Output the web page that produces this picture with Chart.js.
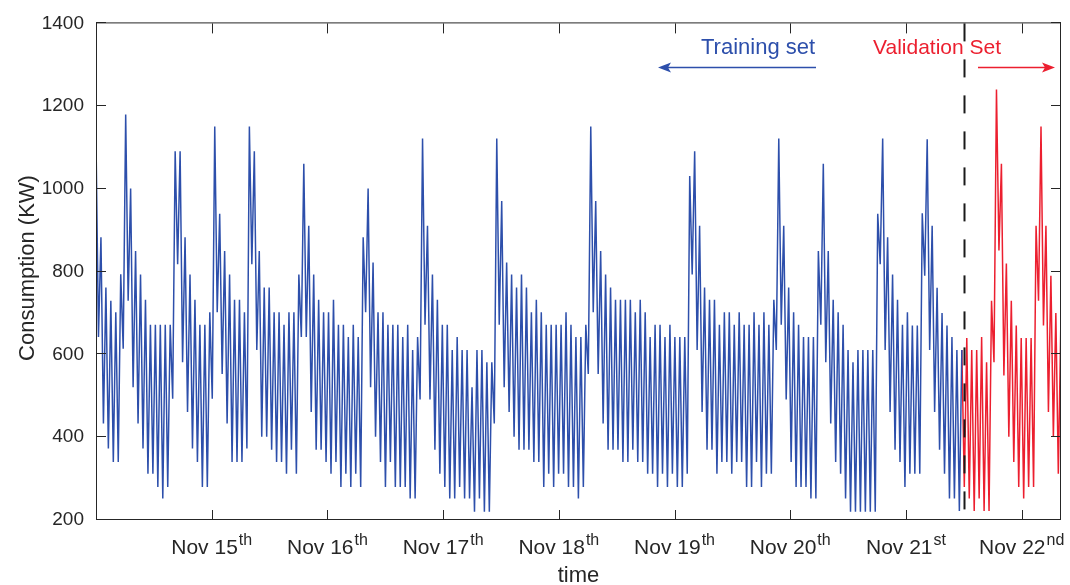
<!DOCTYPE html>
<html>
<head>
<meta charset="utf-8">
<title>Consumption</title>
<script src="https://cdn.jsdelivr.net/npm/chart.js@4.4.1/dist/chart.umd.min.js"></script>
<style>
  html, body { margin: 0; padding: 0; background: #fff; }
  #caixa { width: 1070px; height: 585px; }
</style>
</head>
<body>
<div id="caixa"><canvas id="grafico-consumo" width="1070" height="585"></canvas></div>
<script>
// Consumo (kW), amostras a cada ~30 min a partir de 14/nov 00h
const consumoTreino = [
  1120, 642, 883, 433, 762, 373, 730, 340, 702, 340, 794, 614, 1180, 730, 1001, 521, 850, 433, 793, 373,
  732, 312, 672, 312, 672, 280, 672, 252, 672, 280, 672, 493, 1091, 818, 1091, 581, 883, 461, 793, 373,
  732, 340, 672, 280, 672, 280, 702, 493,
  1151, 702, 940, 553, 850, 433, 793, 340, 732, 340, 732, 340, 702, 373, 1151, 818, 1091, 611, 850, 401,
  762, 401, 762, 370, 702, 340, 702, 340, 672, 312, 702, 370, 702, 312, 793, 642, 1061, 642, 911, 461,
  793, 370, 732, 370, 702, 340, 702, 312, 732,
  340, 672, 280, 672, 312, 642, 280, 672, 312, 642, 280, 883, 702, 1001, 521, 822, 401, 702, 340, 702,
  280, 672, 340, 672, 280, 672, 280, 642, 280, 672, 252, 611, 252, 642, 491, 1122, 672, 911, 491, 793,
  370, 732, 312, 672, 280, 672,
  252, 611, 252, 642, 280, 611, 252, 611, 252, 521, 220, 611, 252, 611, 220, 581, 220, 581, 433, 1122,
  672, 971, 521, 822, 461, 793, 401, 762, 370, 793, 370, 762, 370, 702, 340, 732, 340, 702, 280, 672,
  312, 672, 280, 672, 312, 672, 312,
  702, 280, 672, 280, 642, 252, 642, 280, 672, 553, 1151, 702, 971, 553, 850, 433, 793, 370, 762, 370,
  732, 370, 732, 340, 732, 340, 732, 370, 702, 340, 732, 340, 702, 312, 642, 312, 672, 280, 672, 312,
  642, 280, 672, 312, 642, 280, 642,
  280, 642, 312, 1031, 793, 1091, 611, 911, 461, 762, 370, 732, 370, 732, 312, 672, 340, 702, 340, 702,
  312, 672, 340, 702, 340, 672, 280, 672, 280, 702, 340, 672, 280, 702, 312, 672, 312, 732, 611, 1122,
  672, 911, 491, 762, 340, 702,
  280, 672, 280, 642, 280, 642, 252, 642, 252, 850, 672, 1061, 581, 850, 433, 732, 340, 702, 312, 672,
  252, 611, 220, 581, 220, 611, 220, 611, 220, 611, 220, 611, 220, 940, 818, 1122, 611, 883, 461, 793,
  370, 732, 340, 672, 280, 702, 312,
  670, 312, 670, 312, 941, 790, 1120, 611, 911, 461, 761, 370, 700, 312, 670, 252, 642, 252, 611, 222,
  611
];
const consumoValidacao = [
  280, 640, 252, 611, 222, 611, 252, 642, 222, 581, 222, 730, 581, 1240, 851, 1061, 549, 820, 401, 730,
  340, 670, 280, 640, 252, 640, 280, 640, 280, 911, 730, 1151, 670, 911, 461, 790, 401, 700, 312, 670
];

const passoDias = 0.02138;   // intervalo entre amostras, em dias
const diaCorte = 7.5;        // 21/nov 12h: fim do treino
const diaMaximo = 8.34;
const diasTicks = [1, 2, 3, 4, 5, 6, 7, 8];
const rotulosDias = ['Nov 15', 'Nov 16', 'Nov 17', 'Nov 18', 'Nov 19', 'Nov 20', 'Nov 21', 'Nov 22'];
const sufixosDias = ['th', 'th', 'th', 'th', 'th', 'th', 'st', 'nd'];
const ticksConsumo = [200, 400, 600, 800, 1000, 1200, 1400];

const fonte = '"Liberation Sans", Arial, Helvetica, sans-serif';
const corEixo = '#262626';
const corTreino = '#2d4fab';
const corValidacao = '#ec1f2f';

let graficoConsumo;

// Moldura com ticks para dentro, linha tracejada, rótulos e setas
const moldura = {
  id: 'moldura',
  afterDatasetsDraw(chart) {
    const { ctx, chartArea: a, scales: { x, y } } = chart;
    ctx.save();

    // separação treino / validação
    const xc = Math.round(x.getPixelForValue(diaCorte)) + 0.5;
    ctx.strokeStyle = '#1a1a1a';
    ctx.lineWidth = 2;
    ctx.setLineDash([18, 18]);
    ctx.beginPath();
    ctx.moveTo(xc, a.top);
    ctx.lineTo(xc, a.bottom);
    ctx.stroke();
    ctx.setLineDash([]);

    // caixa
    ctx.strokeStyle = corEixo;
    ctx.lineWidth = 1;
    ctx.strokeRect(a.left + 0.5, a.top - 0.5, a.right - a.left - 1, a.bottom - a.top);

    ctx.beginPath();
    diasTicks.forEach(d => {
      const px = Math.round(x.getPixelForValue(d)) + 0.5;
      ctx.moveTo(px, a.bottom); ctx.lineTo(px, a.bottom - 10);
      ctx.moveTo(px, a.top); ctx.lineTo(px, a.top + 10);
    });
    ticksConsumo.forEach(v => {
      const py = Math.round(y.getPixelForValue(v)) - 0.5;
      ctx.moveTo(a.left, py); ctx.lineTo(a.left + 10, py);
      ctx.moveTo(a.right, py); ctx.lineTo(a.right - 10, py);
    });
    ctx.stroke();

    // rótulos das datas com sufixo sobrescrito
    ctx.fillStyle = corEixo;
    ctx.textAlign = 'left';
    ctx.textBaseline = 'alphabetic';
    rotulosDias.forEach((rotulo, i) => {
      ctx.font = '21px ' + fonte;
      const w1 = ctx.measureText(rotulo).width;
      ctx.font = '16px ' + fonte;
      const w2 = ctx.measureText(sufixosDias[i]).width;
      const inicio = x.getPixelForValue(diasTicks[i]) - (w1 + 1 + w2) / 2;
      ctx.font = '21px ' + fonte;
      ctx.fillText(rotulo, inicio, 554);
      ctx.font = '16px ' + fonte;
      ctx.fillText(sufixosDias[i], inicio + w1 + 1, 545);
    });

    // títulos dos eixos
    ctx.font = '22px ' + fonte;
    ctx.textAlign = 'center';
    ctx.fillText('time', (a.left + a.right) / 2, 582);
    ctx.save();
    ctx.translate(34, 268);
    ctx.rotate(-Math.PI / 2);
    ctx.fillText('Consumption (KW)', 0, 0);
    ctx.restore();

    // anotações
    ctx.textAlign = 'left';
    ctx.font = '22px ' + fonte;
    ctx.fillStyle = corTreino;
    ctx.fillText('Training set', 701, 54);
    ctx.fillStyle = corValidacao;
    ctx.font = '21px ' + fonte;
    ctx.fillText('Validation Set', 873, 54);

    desenharSeta(ctx, 816, 658, 67.5, corTreino);
    desenharSeta(ctx, 978, 1055, 67.5, corValidacao);

    ctx.restore();
  }
};

function desenharSeta(ctx, x0, x1, yy, cor) {
  const dir = Math.sign(x1 - x0);
  ctx.strokeStyle = cor;
  ctx.fillStyle = cor;
  ctx.lineWidth = 1.5;
  ctx.beginPath();
  ctx.moveTo(x0, yy);
  ctx.lineTo(x1 - dir * 10, yy);
  ctx.stroke();
  ctx.beginPath();
  ctx.moveTo(x1, yy);
  ctx.lineTo(x1 - dir * 13, yy - 5);
  ctx.lineTo(x1 - dir * 10, yy);
  ctx.lineTo(x1 - dir * 13, yy + 5);
  ctx.closePath();
  ctx.fill();
}

function montarGrafico() {
  const pontosTreino = consumoTreino.map((v, i) => ({ x: i * passoDias, y: v }));
  const inicioValidacao = consumoTreino.length - 1;
  const pontosValidacao = [consumoTreino[inicioValidacao], ...consumoValidacao]
    .map((v, j) => ({ x: (inicioValidacao + j) * passoDias, y: v }));

  const ctx = document.getElementById('grafico-consumo').getContext('2d');
  graficoConsumo = new Chart(ctx, {
    type: 'line',
    data: {
      datasets: [
        { label: 'Training set', data: pontosTreino, borderColor: corTreino, borderWidth: 1.5 },
        { label: 'Validation Set', data: pontosValidacao, borderColor: corValidacao, borderWidth: 1.5 }
      ]
    },
    options: {
      responsive: false,
      animation: false,
      layout: { padding: { top: 22, right: 9, bottom: 65, left: 0 } },
      elements: {
        line: { tension: 0, fill: false },
        point: { radius: 0 }
      },
      plugins: {
        legend: { display: false },
        tooltip: { enabled: false }
      },
      scales: {
        x: {
          type: 'linear',
          display: false,
          min: 0,
          max: diaMaximo
        },
        y: {
          min: 200,
          max: 1400,
          grid: { display: false, drawTicks: false },
          border: { display: false },
          afterBuildTicks: scale => { scale.ticks = ticksConsumo.map(v => ({ value: v })); },
          afterFit: scale => { scale.width = 96; },
          ticks: {
            color: corEixo,
            padding: 12,
            font: { family: fonte, size: 19 },
            callback: v => String(v)
          }
        }
      }
    },
    plugins: [moldura]
  });
}

document.addEventListener('DOMContentLoaded', montarGrafico);
</script>
</body>
</html>
